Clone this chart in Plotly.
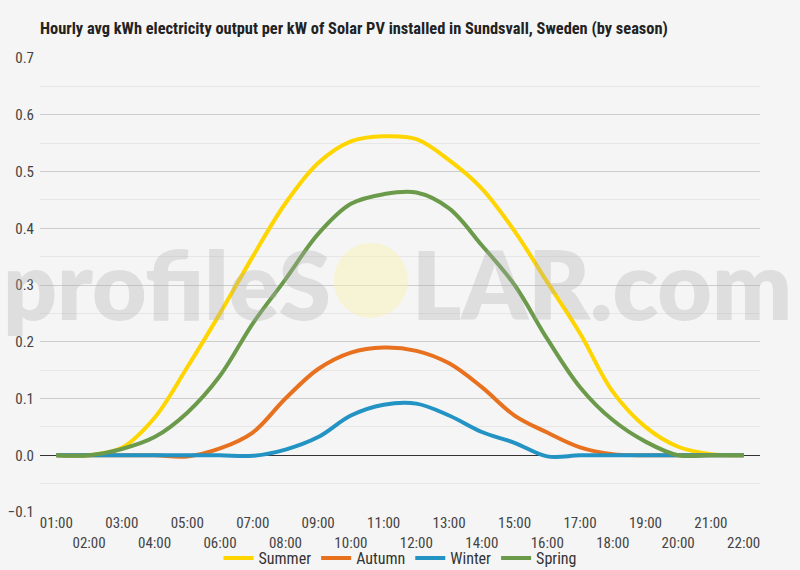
import plotly.graph_objects as go

hours = ["01:00", "02:00", "03:00", "04:00", "05:00", "06:00", "07:00", "08:00",
         "09:00", "10:00", "11:00", "12:00", "13:00", "14:00", "15:00", "16:00",
         "17:00", "18:00", "19:00", "20:00", "21:00", "22:00"]

summer = [0, 0, 0.013, 0.066, 0.155, 0.25, 0.35, 0.444, 0.515, 0.553, 0.562, 0.557,
          0.52, 0.47, 0.395, 0.305, 0.215, 0.112, 0.05, 0.015, 0.002, 0]
autumn = [0, 0, 0, 0, -0.002, 0.012, 0.04, 0.1, 0.152, 0.181, 0.19, 0.184,
          0.162, 0.12, 0.07, 0.04, 0.014, 0.002, 0, 0, 0, 0]
winter = [0, 0, 0, 0, 0, 0, -0.001, 0.01, 0.032, 0.07, 0.089, 0.091,
          0.07, 0.041, 0.022, -0.002, 0, 0, 0, 0, 0, 0]
spring = [0, 0, 0.011, 0.032, 0.075, 0.14, 0.232, 0.31, 0.39, 0.443, 0.46, 0.463,
          0.435, 0.37, 0.3, 0.205, 0.12, 0.062, 0.024, 0.0, 0, 0]

series = [("Summer", summer, "#FFD500"),
          ("Autumn", autumn, "#E8711F"),
          ("Winter", winter, "#2393C4"),
          ("Spring", spring, "#6A9A4A")]

tick_text = [h if i % 2 == 0 else "<br>" + h for i, h in enumerate(hours)]

FONT = "Roboto Condensed, Liberation Sans Narrow, Roboto, sans-serif"

fig = go.Figure()
for name, vals, col in series:
    fig.add_trace(go.Scatter(x=hours, y=vals, name=name, mode="lines",
                             line=dict(color=col, width=4, shape="spline", smoothing=1.0)))

# watermark
fig.add_shape(type="circle", xref="paper", yref="paper",
              x0=0.408, x1=0.511, y0=0.427, y1=0.593,
              fillcolor="rgba(250,242,175,0.45)", line=dict(width=0), layer="above")
WM = dict(family="Lato", size=94, weight=800, color="rgba(175,175,175,0.32)")
fig.add_annotation(text="profileS", xref="paper", yref="paper",
                   x=(333 - 40) / 720, y=(512 - 283) / 454, xanchor="right", yanchor="middle",
                   showarrow=False, font=WM)
fig.add_annotation(text="LAR.com", xref="paper", yref="paper",
                   x=(410 - 40) / 720, y=(512 - 283) / 454, xanchor="left", yanchor="middle",
                   showarrow=False, font=WM)

fig.update_layout(
    width=800, height=570,
    paper_bgcolor="#F5F5F5", plot_bgcolor="#F5F5F5",
    margin=dict(l=40, r=40, t=58, b=58, autoexpand=False),
    title=dict(text="<b>Hourly avg kWh electricity output per kW of Solar PV installed in Sundsvall, Sweden (by season)</b>",
               x=40 / 800, xanchor="left", y=1 - 28 / 570, yanchor="middle",
               font=dict(family=FONT, size=16.4, color="#222222")),
    font=dict(family=FONT, color="#444444"),
    showlegend=True,
    legend=dict(orientation="h", x=0.5, xanchor="center", y=(512 - 558) / 454, yanchor="middle",
                font=dict(family=FONT, size=16, color="#333333"), bgcolor="rgba(0,0,0,0)"),
    xaxis=dict(type="category", range=[-0.5, 21.5], tickmode="array",
               tickvals=hours, ticktext=tick_text, tickangle=0, automargin=False,
               showgrid=False, showline=False,
               ticks="", tickfont=dict(family=FONT, size=15, color="#444444")),
    yaxis=dict(range=[-0.1, 0.7], dtick=0.1, tickformat=".1f", showgrid=True,
               gridcolor="#CCCCCC", gridwidth=1, automargin=False, ticklabelstandoff=5,
               minor=dict(dtick=0.05, showgrid=True, gridcolor="#E6E6E6", gridwidth=1),
               zeroline=True, zerolinecolor="#333333", zerolinewidth=1,
               ticks="", tickfont=dict(family=FONT, size=15, color="#444444")),
)

fig.write_html("out.html")
